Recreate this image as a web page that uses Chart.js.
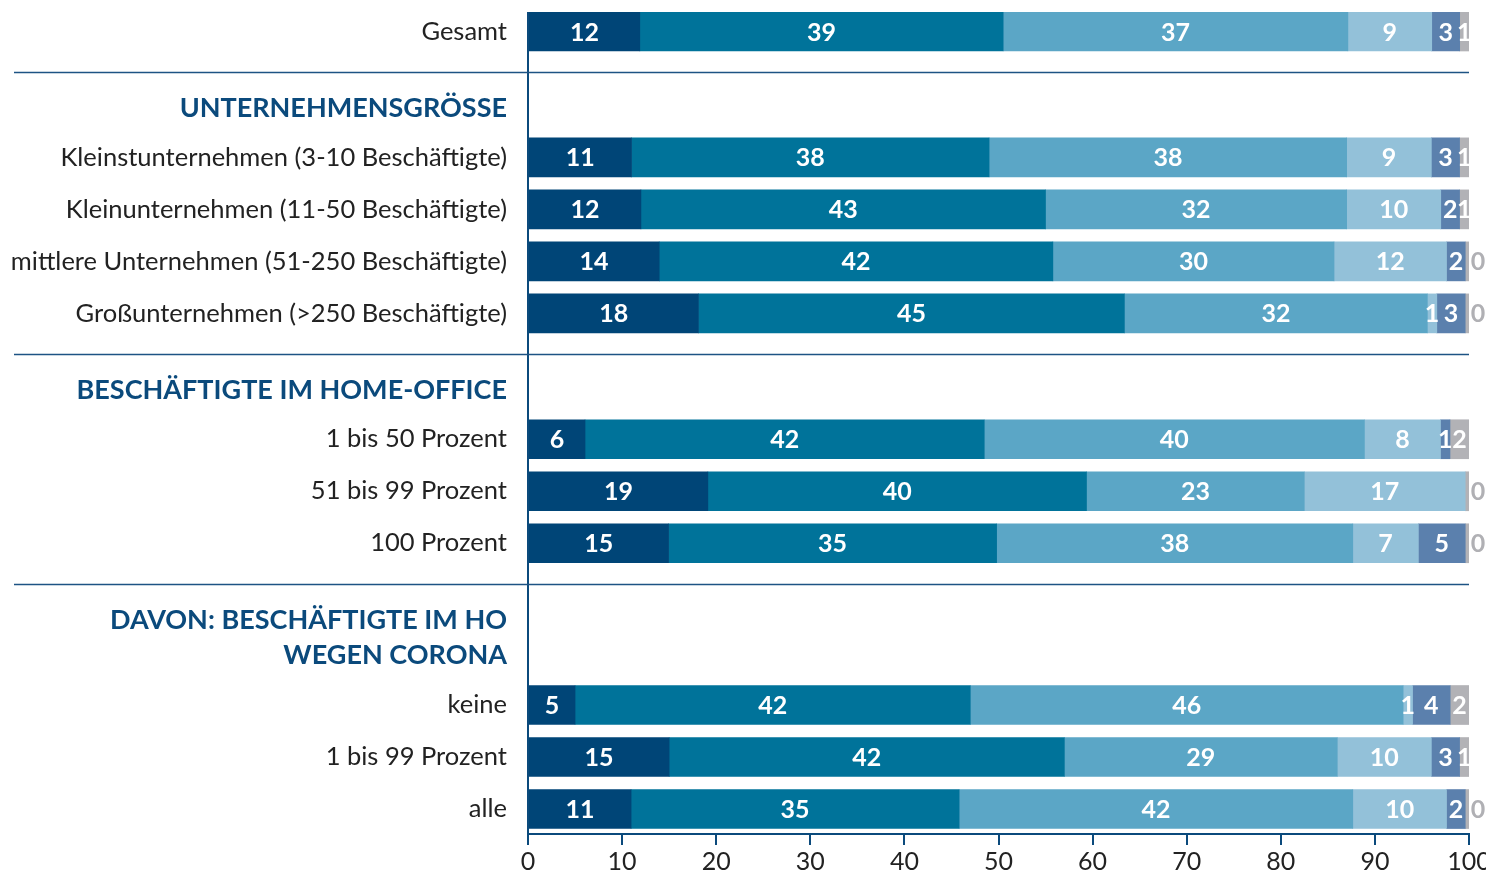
<!DOCTYPE html>
<html>
<head>
<meta charset="utf-8">
<script src="https://cdn.jsdelivr.net/npm/chart.js@4/dist/chart.umd.min.js"></script>
<style>
  html, body { margin: 0; padding: 0; background: #fff; }
  #wrap { width: 1486px; height: 874px; position: relative; }
</style>
</head>
<body>
<div id="wrap"><canvas id="chart"></canvas></div>
<script>
// rows of the chart, top to bottom
const categories = [
  "Gesamt",
  "Kleinstunternehmen (3-10 Beschäftigte)",
  "Kleinunternehmen (11-50 Beschäftigte)",
  "mittlere Unternehmen (51-250 Beschäftigte)",
  "Großunternehmen (>250 Beschäftigte)",
  "1 bis 50 Prozent",
  "51 bis 99 Prozent",
  "100 Prozent",
  "keine",
  "1 bis 99 Prozent",
  "alle"
];
const groupOf = [0, 1, 1, 1, 1, 2, 2, 2, 3, 3, 3];
const groupTitles = [
  [],
  ["UNTERNEHMENSGRÖSSE"],
  ["BESCHÄFTIGTE IM HOME-OFFICE"],
  ["DAVON: BESCHÄFTIGTE IM HO", "WEGEN CORONA"]
];

// answer shares in percent, one array per segment (left to right)
const stufe1 = [12, 11, 12, 14, 18, 6, 19, 15, 5, 15, 11];
const stufe2 = [39, 38, 43, 42, 45, 42, 40, 35, 42, 42, 35];
const stufe3 = [37, 38, 32, 30, 32, 40, 23, 38, 46, 29, 42];
const stufe4 = [9, 9, 10, 12, 1, 8, 17, 7, 1, 10, 10];
const stufe5 = [3, 3, 2, 2, 3, 1, null, 5, 4, 3, 2];
const stufe6 = [1, 1, 1, 0.4, 0.4, 2, 0.4, 0.4, 2, 1, 0.4];

const xTicks = [0, 10, 20, 30, 40, 50, 60, 70, 80, 90, 100];

const colors = ["#004577", "#00739a", "#5ba6c6", "#93c1d9", "#5b80ad", "#b2b2b6"];
const series = [stufe1, stufe2, stufe3, stufe4, stufe5, stufe6];
const DARK = "#0b4a7c";
const FONT = "Lato";

// vertical layout in row units
const rowPos = [];
let cur = 0;
categories.forEach((c, i) => {
  if (i > 0) {
    if (groupOf[i] !== groupOf[i - 1]) {
      cur += 2.42 + 0.69 * (groupTitles[groupOf[i]].length - 1);
    } else {
      cur += 1;
    }
  }
  rowPos.push(cur);
});

// each row is drawn as share of its own total so it ends at 100
const rowSum = categories.map((c, i) => series.reduce((s, arr) => s + (arr[i] || 0), 0));

const datasets = series.map((arr, k) => ({
  label: "Stufe " + (k + 1),
  data: arr.map((v, i) => ({ x: v == null ? null : v / rowSum[i] * 100, y: rowPos[i], raw: v })),
  backgroundColor: colors[k],
  borderWidth: 0,
  barThickness: 39
}));

const overlay = {
  id: "overlay",
  afterDraw(chart) {
    const { ctx, chartArea } = chart;
    const ys = chart.scales.y;
    const xs = chart.scales.x;
    ctx.save();
    // vertical axis line
    ctx.strokeStyle = DARK;
    ctx.lineWidth = 2;
    ctx.beginPath();
    ctx.moveTo(chartArea.left, chartArea.top);
    ctx.lineTo(chartArea.left, chartArea.bottom);
    ctx.stroke();

    // row labels
    ctx.textAlign = "right";
    ctx.textBaseline = "middle";
    ctx.fillStyle = "#222";
    ctx.font = "25.5px " + FONT;
    categories.forEach((c, i) => {
      ctx.fillText(c, 507, ys.getPixelForValue(rowPos[i]));
    });

    // group headers and separators
    ctx.font = "bold 27px " + FONT;
    groupTitles.forEach((lines, g) => {
      const idx = groupOf.map((v, i) => v === g ? i : -1).filter(i => i >= 0);
      const first = rowPos[idx[0]];
      const last = rowPos[idx[idx.length - 1]];
      lines.forEach((t, j) => {
        const p = first - 0.95 - 0.68 * (lines.length - 1 - j);
        ctx.fillStyle = DARK;
        ctx.fillText(t, 507, ys.getPixelForValue(p));
      });
      if (g < groupTitles.length - 1) {
        const sy = Math.round(ys.getPixelForValue(last + 0.78)) + 0.5;
        ctx.strokeStyle = "#1d5384";
        ctx.lineWidth = 1.5;
        ctx.beginPath();
        ctx.moveTo(14, sy);
        ctx.lineTo(xs.getPixelForValue(100), sy);
        ctx.stroke();
      }
    });

    // value labels
    ctx.textAlign = "center";
    ctx.font = "bold 25px " + FONT;
    chart.data.datasets.forEach((ds, k) => {
      const meta = chart.getDatasetMeta(k);
      meta.data.forEach((bar, i) => {
        const v = ds.data[i].raw;
        if (v == null) return;
        const txt = String(Math.round(v));
        if (Math.round(v) === 0) {
          ctx.fillStyle = "#b0b0b4";
          ctx.fillText(txt, bar.x + 9, bar.y + 1);
        } else {
          ctx.fillStyle = "#fff";
          ctx.fillText(txt, (bar.x + bar.base) / 2, bar.y + 1);
        }
      });
    });
    ctx.restore();
  }
};

new Chart(document.getElementById("chart"), {
  type: "bar",
  data: { datasets },
  options: {
    indexAxis: "y",
    responsive: true,
    maintainAspectRatio: false,
    animation: false,
    layout: { padding: { left: 528, right: 17, top: 12, bottom: 0 } },
    plugins: { legend: { display: false }, tooltip: { enabled: false } },
    scales: {
      x: {
        stacked: true,
        min: 0,
        max: 100,
        afterBuildTicks(scale) { scale.ticks = xTicks.map(v => ({ value: v })); },
        afterFit(scale) { scale.height = 40; scale.paddingLeft = 0; scale.paddingRight = 0; },
        grid: { drawOnChartArea: false, drawTicks: true, tickLength: 11, color: DARK, lineWidth: 2 },
        border: { display: true, color: DARK, width: 2 },
        ticks: { color: "#222", font: { family: FONT, size: 25 }, padding: 2, maxRotation: 0, autoSkip: false }
      },
      y: {
        type: "linear",
        stacked: true,
        reverse: true,
        offset: false,
        grace: 0,
        min: -0.375,
        max: 15.43,
        display: false
      }
    }
  },
  plugins: [overlay]
});
</script>
</body>
</html>
